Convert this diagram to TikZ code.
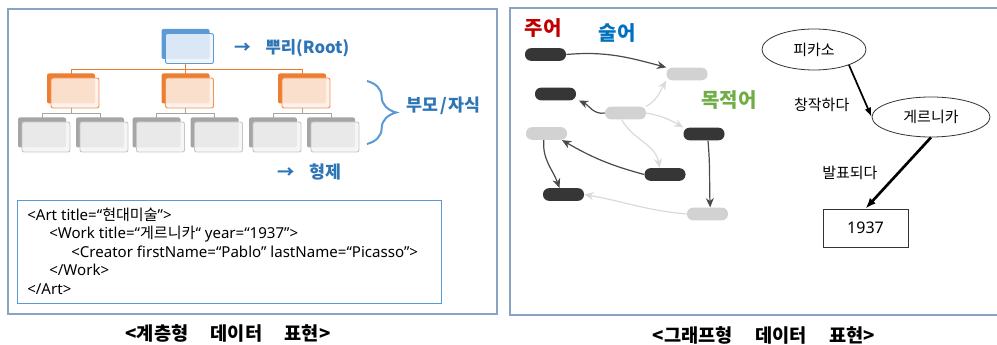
\documentclass[tikz,border=0pt]{standalone}
\usepackage{fontspec}
\setmainfont{Noto Sans}
\newfontfamily\kr{Noto Sans CJK KR}
\usetikzlibrary{positioning,shapes.geometric,shadows,arrows.meta,decorations.pathreplacing,backgrounds}

\newcommand{\DataModelUnit}{0.75pt}
\newcommand{\CapGap}{\hspace{1.2em}}

\definecolor{panelframe}{HTML}{8BA3C3}
\definecolor{rootblue}{HTML}{5B9BD5}
\definecolor{rootfill}{HTML}{F0F5FC}
\definecolor{nodeorange}{HTML}{ED7D31}
\definecolor{branchedge}{HTML}{F19153}
\definecolor{branchfill}{HTML}{FEF1E9}
\definecolor{leafgray}{HTML}{A5A5A5}
\definecolor{leafedge}{HTML}{C6C6C6}
\definecolor{leaffill}{HTML}{F5F5F5}
\definecolor{textblue}{HTML}{2E75B6}
\definecolor{subjred}{HTML}{C00000}
\definecolor{predblue}{HTML}{0070C0}
\definecolor{objgreen}{HTML}{70AD47}
\definecolor{pilldark}{HTML}{363636}
\definecolor{pilllight}{HTML}{D2D2D2}
\definecolor{edgedark}{HTML}{4A4A4A}
\definecolor{edgelight}{HTML}{DADADA}

\tikzset{
  tree box/.style={rectangle, rounded corners=1.5pt, minimum width=36pt, minimum height=22.5pt,
    inner sep=0pt, line width=0.7pt, fill opacity=0.85},
  root box/.style={tree box, draw=rootblue, fill=rootfill,
    general shadow={fill=rootblue, fill opacity=1, shadow xshift=-3pt, shadow yshift=3.4pt}},
  branch box/.style={tree box, draw=branchedge, fill=branchfill,
    general shadow={fill=nodeorange, fill opacity=1, shadow xshift=-3pt, shadow yshift=3.4pt}},
  leaf box/.style={tree box, draw=leafedge, fill=leaffill,
    general shadow={fill=leafgray, fill opacity=1, shadow xshift=-3pt, shadow yshift=3.4pt}},
  branch line/.style={draw=nodeorange, line width=0.6pt},
  leaf line/.style={draw=leafgray, line width=0.6pt},
  tree label/.style={font=\kr\bfseries\fontsize{12.5}{15}\selectfont, text=textblue, inner sep=0pt},
  pill/.style={rectangle, rounded corners=4.5pt, minimum width=30.75pt, minimum height=9.5pt, inner sep=0pt},
  dark pill/.style={pill, fill=pilldark},
  light pill/.style={pill, fill=pilllight},
  dark edge/.style={draw=edgedark, line width=0.9pt, -{Stealth[length=7pt,width=6pt]}},
  light edge/.style={draw=edgelight, line width=0.9pt, -{Stealth[length=7pt,width=6pt]}},
  role/.style={font=\kr\bfseries\fontsize{15}{18}\selectfont, inner sep=0pt},
  fact/.style={draw=black!80, line width=0.6pt, inner sep=0pt, font=\kr\fontsize{11.25}{13}\selectfont},
  fact label/.style={font=\kr\fontsize{11.25}{13}\selectfont, inner sep=0pt},
  caption/.style={font=\kr\bfseries\fontsize{14}{16}\selectfont, inner sep=0pt}
}

\begin{document}
\begin{tikzpicture}[x=\DataModelUnit, y=-\DataModelUnit]
  \useasboundingbox (0,0) rectangle (997,345);

  % panels
  \draw[draw=panelframe, line width=1.2pt] (8,9) rectangle (497,314);
  \draw[draw=panelframe, line width=1.2pt] (510,8) rectangle (1005,315);

  % --- hierarchical model ---
  \node[root box] (root) at (189.5,48.5) {};
  \foreach \i/\x in {1/75,2/189.5,3/306} {
    \node[branch box] (c\i) at (\x,93) {};
    \node[leaf box] (l\i) at (\x-29,137) {};
    \node[leaf box] (r\i) at (\x+29,137) {};
    \begin{pgfonlayer}{background}
      \draw[branch line] ([xshift=-3pt]root.south) -- ++(0,5) -| ([xshift=-3pt]c\i.north);
      \draw[leaf line] ([xshift=-3pt]c\i.south) -- ++(0,5) -| ([xshift=-3pt]l\i.north);
      \draw[leaf line] ([xshift=-3pt]c\i.south) -- ++(0,5) -| ([xshift=-3pt]r\i.north);
    \end{pgfonlayer}
  }

  \node[tree label, anchor=west, right=15pt of root] (rootlbl) {→\hspace{11pt}뿌리(Root)};
  \coordinate (bt) at (367,81);
  \coordinate (bb) at (367,144);
  \draw[rootblue, line width=1.5pt, decorate, decoration={brace, amplitude=22pt}] (bt) -- (bb);
  \node[tree label, anchor=west, font=\kr\bfseries\fontsize{13}{15}\selectfont]
    (family) at (406,106) {부모\hspace{1.5pt}/\hspace{1.5pt}자식};
  \node[tree label, anchor=west, font=\kr\bfseries\fontsize{13}{15}\selectfont]
    (sibling) at (277,172) {→\hspace{11pt}형제};

  \node[draw=rootblue, line width=0.7pt, minimum width=318pt, minimum height=77.25pt,
        inner sep=0pt, anchor=north west] (xml) at (17,200) {};
  \node[font=\fontsize{11.3}{13.9}\selectfont, align=left, inner sep=0pt, anchor=north west]
    (code) at ([xshift=7.5pt, yshift=-5.5pt]xml.north west) {%
    <Art title=“{\kr 현대미술}”>\\
    \hspace*{16.5pt}<Work title=“{\kr 게르니카}“ year=“1937”>\\
    \hspace*{33pt}<Creator firstName=“Pablo” lastName=“Picasso”>\\
    \hspace*{16.5pt}</Work>\\
    </Art>};

  \node[caption] (leftcap) at (228,333) {<계층형\CapGap 데이터\CapGap 표현>};

  % --- graph model ---
  \node[role, text=subjred] (subj) at (543,28) {주어};
  \node[role, text=predblue] (pred) at (617,33) {술어};
  \node[role, text=objgreen] (obj) at (729,100) {목적어};

  \node[dark pill] (g1) at (545.5,54.5) {};
  \node[light pill] (g2) at (687,74) {};
  \node[dark pill] (g3) at (555.5,94) {};
  \node[light pill] (g4) at (625.5,113) {};
  \node[light pill] (g5) at (546.5,133.5) {};
  \node[dark pill] (g6) at (704,134) {};
  \node[dark pill] (g7) at (665,174.5) {};
  \node[dark pill] (g8) at (563.5,194.5) {};
  \node[light pill] (g9) at (707.5,214) {};

  \draw[light edge] (g4.north east) to[out=30, in=-120] (g2.south west);
  \draw[light edge] (g4.east) to[out=-10, in=150] (g6.north west);
  \draw[light edge] ([xshift=-3pt]g4.south) to[out=-60, in=100] ([xshift=-4pt]g7.north);
  \draw[light edge] (g9.west) to[out=175, in=-10] (g8.east);
  \draw[dark edge] (g1.east) to[out=5, in=165] (g2.north west);
  \draw[dark edge] (g4.west) to[out=190, in=-25] ([xshift=2pt]g3.south east);
  \draw[dark edge] (g7.west) to[out=165, in=-30] ([xshift=-4pt]g5.south east);
  \draw[dark edge] ([xshift=-2pt]g5.south) to[out=-95, in=110] ([xshift=-3pt]g8.north);
  \draw[dark edge] ([xshift=3pt]g6.south) to[out=-85, in=92] ([xshift=2pt]g9.north);

  \node[fact, ellipse, minimum width=78pt, minimum height=30.75pt] (picasso) at (814,49.5) {피카소};
  \node[fact, ellipse, minimum width=88.5pt, minimum height=30pt] (guernica) at (931,117) {게르니카};
  \node[fact, rectangle, minimum width=63.75pt, minimum height=28.5pt,
        font=\fontsize{12}{14}\selectfont] (year) at (865.5,228) {1937};

  \draw[line width=1.3pt, -{Latex[length=7pt,width=5pt]}] (picasso.-24) -- (guernica.west)
    node[fact label, pos=0.76, left=12pt] (created) {창작하다};
  \draw[line width=2pt, -{Latex[length=8pt,width=6pt]}] (guernica.south) -- (year.north)
    node[fact label, pos=0.5, left=14.6pt] (published) {발표되다};

  \node[caption] (rightcap) at (764,335) {<그래프형\CapGap 데이터\CapGap 표현>};
\end{tikzpicture}
\end{document}
